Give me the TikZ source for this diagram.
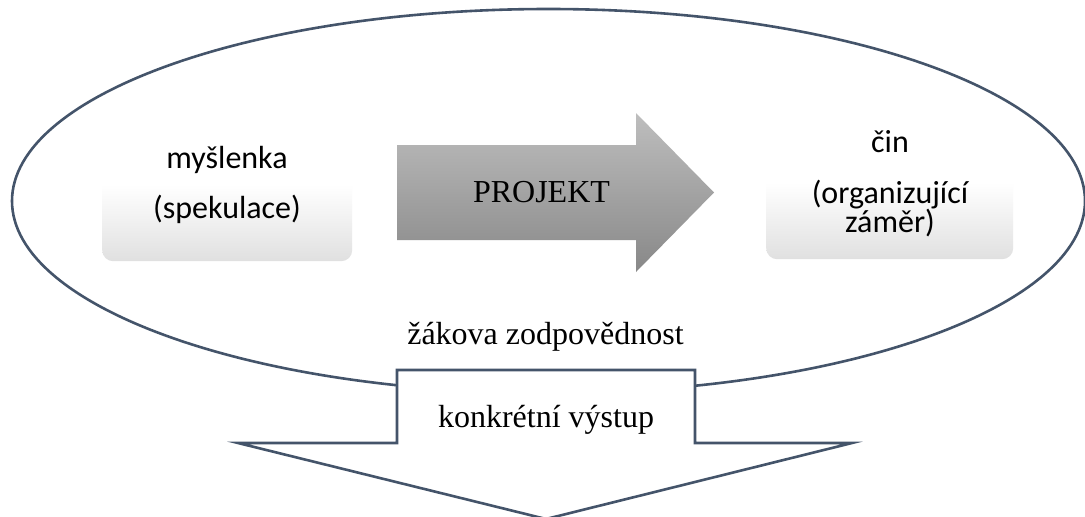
\documentclass[tikz,border=0pt]{standalone}
\usepackage{fontspec}
\setmainfont{Liberation Serif}
\newfontfamily\calibri{Carlito}
\definecolor{edge}{RGB}{68,84,106}
\definecolor{boxbot}{RGB}{224,224,224}
\definecolor{arrtop}{RGB}{190,190,190}
\definecolor{arrbot}{RGB}{136,136,136}
\begin{document}
\begin{tikzpicture}[x=1pt,y=-1pt,
  outline/.style={draw=edge,line width=2.6pt},
  softbox/.style={rectangle,rounded corners=11pt,top color=white,bottom color=boxbot,middle color=white,anchor=north west,inner sep=0pt},
  sanslbl/.style={font=\calibri\fontsize{32}{38}\selectfont,inner sep=0pt,anchor=base},
  seriflbl/.style={font=\fontsize{32}{38}\selectfont,inner sep=0pt,anchor=base}]
\useasboundingbox (0,0) rectangle (1085,517);
\fill[white] (0,0) rectangle (1085,517);
% big ellipse (fill first, outline after the boxes)
\fill[white] (548.5,201) ellipse [x radius=536.5, y radius=192];
% soft boxes
\node[softbox,minimum width=250pt,minimum height=153pt] (idea) at (102,108) {};
\node[softbox,minimum width=247pt,minimum height=153pt] (act) at (766,106) {};
\draw[outline] (548.5,201) ellipse [x radius=536.5, y radius=192];
% PROJEKT arrow
\path[top color=arrtop,bottom color=arrbot] (397,145) -- (636,145) -- (636,113) -- (714,192.5) -- (636,272) -- (636,240) -- (397,240) -- cycle;
\node[seriflbl] (proj) at (541.5,202) {PROJEKT};
% texts in boxes
\node[sanslbl] (idea1) at (227,168) {myšlenka};
\node[sanslbl] (idea2) at (227,218) {(spekulace)};
\node[sanslbl] (act1) at (890,152) {čin};
\node[sanslbl] (act2) at (890,203) {(organizující};
\node[sanslbl] (act3) at (890,232) {záměr)};
% responsibility
\node[seriflbl] (resp) at (545.5,344) {žákova zodpovědnost};
% down arrow
\draw[outline,fill=white] (397,370) -- (695,370) -- (695,443) -- (852,443) -- (546,519) -- (238,443) -- (397,443) -- cycle;
\node[seriflbl] (out) at (546,427) {konkrétní výstup};
\end{tikzpicture}
\end{document}
